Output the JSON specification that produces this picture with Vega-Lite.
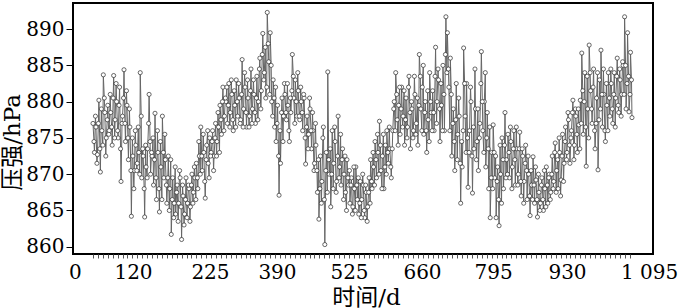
{
  "$schema": "https://vega.github.io/schema/vega-lite/v6.json",
  "width": 580,
  "height": 251,
  "autosize": "none",
  "padding": {"left": 73, "top": 3, "right": 47, "bottom": 54},
  "background": "white",
  "config": {
    "view": {"stroke": "black", "strokeWidth": 2},
    "axis": {"labelFont": "DejaVu Serif", "labelFontSize": 20, "labelColor": "black", "titleFont": "DejaVu Serif, Noto Sans CJK SC", "titleFontSize": 23, "titleFontWeight": "normal", "titleColor": "black", "grid": false, "domain": false}
  },
  "data": {"values": [
    {"d":0,"p":877},{"d":3,"p":873},{"d":6,"p":876.5},{"d":9,"p":872.7},{"d":12,"p":880.2},{"d":15,"p":870.3},{"d":18,"p":876},{"d":21,"p":883.7},{"d":24,"p":878.5},{"d":27,"p":875},
    {"d":30,"p":879.5},{"d":33,"p":876},{"d":36,"p":878.5},{"d":39,"p":874},{"d":42,"p":883.6},{"d":45,"p":877.5},{"d":48,"p":880},{"d":51,"p":875},{"d":54,"p":882},{"d":57,"p":869},
    {"d":60,"p":878},{"d":63,"p":884.4},{"d":66,"p":874.5},{"d":69,"p":879.5},{"d":72,"p":872},{"d":75,"p":876.5},{"d":78,"p":864.2},{"d":81,"p":872.5},{"d":84,"p":870.5},{"d":87,"p":874},
    {"d":90,"p":871.5},{"d":93,"p":873},{"d":96,"p":884},{"d":99,"p":869.5},{"d":102,"p":872.5},{"d":105,"p":864.1},{"d":108,"p":871},{"d":111,"p":873.5},{"d":114,"p":881},{"d":117,"p":870},
    {"d":120,"p":872.5},{"d":123,"p":868.5},{"d":126,"p":878.4},{"d":129,"p":866.5},{"d":132,"p":873},{"d":135,"p":864.8},{"d":138,"p":871},{"d":141,"p":878},{"d":144,"p":869.5},{"d":147,"p":872},
    {"d":150,"p":866},{"d":153,"p":872.5},{"d":156,"p":868},{"d":159,"p":861.7},{"d":162,"p":869.5},{"d":165,"p":866},{"d":168,"p":864.5},{"d":171,"p":868.5},{"d":174,"p":866},{"d":177,"p":869.5},
    {"d":180,"p":861},{"d":183,"p":867},{"d":186,"p":864.5},{"d":189,"p":869.5},{"d":192,"p":866},{"d":195,"p":868},{"d":198,"p":865.5},{"d":201,"p":870},{"d":204,"p":867.5},{"d":207,"p":869.5},
    {"d":210,"p":871.5},{"d":213,"p":868},{"d":216,"p":872.5},{"d":219,"p":876.5},{"d":222,"p":870.5},{"d":225,"p":873},{"d":228,"p":866.7},{"d":231,"p":874},{"d":234,"p":871.5},{"d":237,"p":875},
    {"d":240,"p":873},{"d":243,"p":876},{"d":246,"p":872.5},{"d":249,"p":877},{"d":252,"p":874.5},{"d":255,"p":876.5},{"d":258,"p":879.5},{"d":261,"p":875.5},{"d":264,"p":882},{"d":267,"p":878},
    {"d":270,"p":880},{"d":273,"p":877},{"d":276,"p":882.5},{"d":279,"p":878.5},{"d":282,"p":881},{"d":285,"p":876},{"d":288,"p":879.5},{"d":291,"p":883},{"d":294,"p":878},{"d":297,"p":880.5},
    {"d":300,"p":877.5},{"d":303,"p":885.8},{"d":306,"p":879},{"d":309,"p":882},{"d":312,"p":876.5},{"d":315,"p":880.5},{"d":318,"p":878},{"d":321,"p":884.5},{"d":324,"p":879},{"d":327,"p":881},
    {"d":330,"p":877},{"d":333,"p":883.5},{"d":336,"p":880},{"d":339,"p":886},{"d":342,"p":881.5},{"d":345,"p":889.4},{"d":348,"p":884},{"d":351,"p":880.5},{"d":354,"p":892.3},{"d":357,"p":885.5},
    {"d":360,"p":889.5},{"d":363,"p":880},{"d":366,"p":883},{"d":369,"p":876.5},{"d":372,"p":874.5},{"d":375,"p":879.5},{"d":378,"p":867.1},{"d":381,"p":871.5},{"d":384,"p":880.5},{"d":387,"p":878},
    {"d":390,"p":881},{"d":393,"p":877.5},{"d":396,"p":879.5},{"d":399,"p":874.5},{"d":402,"p":878.5},{"d":405,"p":886.5},{"d":408,"p":880.5},{"d":411,"p":883},{"d":414,"p":878},{"d":417,"p":881.5},
    {"d":420,"p":877.5},{"d":423,"p":880},{"d":426,"p":876},{"d":429,"p":880.5},{"d":432,"p":871.4},{"d":435,"p":878},{"d":438,"p":875.5},{"d":441,"p":879},{"d":444,"p":873.5},{"d":447,"p":876},
    {"d":450,"p":871.5},{"d":453,"p":874},{"d":456,"p":867.5},{"d":459,"p":863.8},{"d":462,"p":872.5},{"d":465,"p":869},{"d":468,"p":876.5},{"d":471,"p":860.3},{"d":474,"p":873},{"d":477,"p":884.1},
    {"d":480,"p":870},{"d":483,"p":865.5},{"d":486,"p":876},{"d":489,"p":871.5},{"d":492,"p":874.5},{"d":495,"p":869},{"d":498,"p":878},{"d":501,"p":871},{"d":504,"p":868.5},{"d":507,"p":873.5},
    {"d":510,"p":870},{"d":513,"p":867.5},{"d":516,"p":872},{"d":519,"p":868.5},{"d":522,"p":866},{"d":525,"p":869.5},{"d":528,"p":865.5},{"d":531,"p":868},{"d":534,"p":871},{"d":537,"p":866.5},
    {"d":540,"p":864.5},{"d":543,"p":869},{"d":546,"p":866.5},{"d":549,"p":868.5},{"d":552,"p":864},{"d":555,"p":867.5},{"d":558,"p":865.5},{"d":561,"p":869.5},{"d":564,"p":872},{"d":567,"p":868},
    {"d":570,"p":871},{"d":573,"p":874.5},{"d":576,"p":869.5},{"d":579,"p":873},{"d":582,"p":877.3},{"d":585,"p":870.5},{"d":588,"p":872.5},{"d":591,"p":868},{"d":594,"p":874},{"d":597,"p":876},
    {"d":600,"p":871.5},{"d":603,"p":873.5},{"d":606,"p":869.5},{"d":609,"p":876},{"d":612,"p":880},{"d":615,"p":884},{"d":618,"p":877.5},{"d":621,"p":879.5},{"d":624,"p":875.5},{"d":627,"p":882},
    {"d":630,"p":878},{"d":633,"p":874},{"d":636,"p":880.5},{"d":639,"p":876.5},{"d":642,"p":883.5},{"d":645,"p":873.5},{"d":648,"p":879},{"d":651,"p":876},{"d":654,"p":881},{"d":657,"p":877},
    {"d":660,"p":874},{"d":663,"p":886.5},{"d":666,"p":879},{"d":669,"p":882},{"d":672,"p":875.5},{"d":675,"p":880},{"d":678,"p":873},{"d":681,"p":877.5},{"d":684,"p":884},{"d":687,"p":878.5},
    {"d":690,"p":881.5},{"d":693,"p":876},{"d":696,"p":887.5},{"d":699,"p":880},{"d":702,"p":883},{"d":705,"p":874.5},{"d":708,"p":879.5},{"d":711,"p":885},{"d":714,"p":876},{"d":717,"p":891.7},
    {"d":720,"p":889.5},{"d":723,"p":882},{"d":726,"p":886},{"d":729,"p":872.5},{"d":732,"p":879},{"d":735,"p":870.5},{"d":738,"p":882.5},{"d":741,"p":875.5},{"d":744,"p":878},{"d":747,"p":866},
    {"d":750,"p":871},{"d":753,"p":887.4},{"d":756,"p":878},{"d":759,"p":882.5},{"d":762,"p":868.2},{"d":765,"p":876},{"d":768,"p":880},{"d":771,"p":867.4},{"d":774,"p":873.5},{"d":777,"p":879},
    {"d":780,"p":874.5},{"d":783,"p":870.5},{"d":786,"p":877},{"d":789,"p":886.9},{"d":792,"p":876},{"d":795,"p":880},{"d":798,"p":871},{"d":801,"p":878.5},{"d":804,"p":868},{"d":807,"p":864},
    {"d":810,"p":873},{"d":813,"p":876.8},{"d":816,"p":869.5},{"d":819,"p":864},{"d":822,"p":871},{"d":825,"p":862.9},{"d":828,"p":870},{"d":831,"p":875},{"d":834,"p":868},{"d":837,"p":878.5},
    {"d":840,"p":872},{"d":843,"p":875.5},{"d":846,"p":869.5},{"d":849,"p":874.5},{"d":852,"p":871},{"d":855,"p":876},{"d":858,"p":868.5},{"d":861,"p":873.5},{"d":864,"p":870},{"d":867,"p":875.8},
    {"d":870,"p":867},{"d":873,"p":872.5},{"d":876,"p":869},{"d":879,"p":874},{"d":882,"p":866.5},{"d":885,"p":870},{"d":888,"p":864.3},{"d":891,"p":868.5},{"d":894,"p":872.4},{"d":897,"p":866},
    {"d":900,"p":869.2},{"d":903,"p":864.1},{"d":906,"p":867.5},{"d":909,"p":866},{"d":912,"p":869.5},{"d":915,"p":865},{"d":918,"p":868},{"d":921,"p":871},{"d":924,"p":866},{"d":927,"p":870},
    {"d":930,"p":867.5},{"d":933,"p":872.5},{"d":936,"p":869},{"d":939,"p":874.3},{"d":942,"p":870.5},{"d":945,"p":868},{"d":948,"p":873},{"d":951,"p":869.2},{"d":954,"p":875.5},{"d":957,"p":871.5},
    {"d":960,"p":876.5},{"d":963,"p":873},{"d":966,"p":877.5},{"d":969,"p":871.5},{"d":972,"p":876},{"d":975,"p":880.2},{"d":978,"p":874},{"d":981,"p":878},{"d":984,"p":873},{"d":987,"p":876.8},
    {"d":990,"p":880.2},{"d":993,"p":886.7},{"d":996,"p":875.5},{"d":999,"p":884},{"d":1002,"p":871.1},{"d":1005,"p":879},{"d":1008,"p":887.8},{"d":1011,"p":881.5},{"d":1014,"p":877},{"d":1017,"p":884.5},
    {"d":1020,"p":873.5},{"d":1023,"p":880.5},{"d":1026,"p":870.6},{"d":1029,"p":883},{"d":1032,"p":887.1},{"d":1035,"p":876.5},{"d":1038,"p":881},{"d":1041,"p":874.5},{"d":1044,"p":879.5},{"d":1047,"p":884},
    {"d":1050,"p":878},{"d":1053,"p":882.5},{"d":1056,"p":877},{"d":1059,"p":884},{"d":1062,"p":880.5},{"d":1065,"p":886},{"d":1068,"p":878.5},{"d":1071,"p":883},{"d":1074,"p":881},{"d":1077,"p":885},
    {"d":1080,"p":891.7},{"d":1083,"p":879},{"d":1086,"p":889.5},{"d":1089,"p":878.6},{"d":1092,"p":886.8},{"d":1095,"p":877.8},
    {"d":2,"p":874.5},{"d":5,"p":878},{"d":8,"p":871.5},{"d":11,"p":877},{"d":14,"p":873.5},{"d":17,"p":879},{"d":20,"p":874},{"d":23,"p":880.5},{"d":26,"p":872.5},{"d":29,"p":877.5},
    {"d":32,"p":875.5},{"d":35,"p":881},{"d":38,"p":876.5},{"d":41,"p":880.5},{"d":44,"p":875},{"d":47,"p":882.5},{"d":50,"p":876},{"d":53,"p":879.5},{"d":56,"p":873.5},{"d":59,"p":877},
    {"d":62,"p":880.5},{"d":65,"p":877},{"d":68,"p":881.5},{"d":71,"p":875},{"d":74,"p":879},{"d":77,"p":870.5},{"d":80,"p":875},{"d":83,"p":868},{"d":86,"p":876},{"d":89,"p":870.5},
    {"d":92,"p":876.5},{"d":95,"p":870},{"d":98,"p":878},{"d":101,"p":873.5},{"d":104,"p":868},{"d":107,"p":874},{"d":110,"p":869.5},{"d":113,"p":877},{"d":116,"p":874.5},{"d":119,"p":873},
    {"d":122,"p":875},{"d":125,"p":872},{"d":128,"p":869.5},{"d":131,"p":876},{"d":134,"p":868},{"d":137,"p":874.5},{"d":140,"p":866.5},{"d":143,"p":873},{"d":146,"p":875.5},{"d":149,"p":868.5},
    {"d":152,"p":869.5},{"d":155,"p":865},{"d":158,"p":872},{"d":161,"p":866.5},{"d":164,"p":864},{"d":167,"p":871},{"d":170,"p":867.5},{"d":173,"p":863.5},{"d":176,"p":870.5},{"d":179,"p":865.5},
    {"d":182,"p":868.5},{"d":185,"p":863},{"d":188,"p":866.5},{"d":191,"p":864},{"d":194,"p":868.5},{"d":197,"p":863.5},{"d":200,"p":868.5},{"d":203,"p":866},{"d":206,"p":871},{"d":209,"p":866.5},
    {"d":212,"p":869.5},{"d":215,"p":874.5},{"d":218,"p":870},{"d":221,"p":872.5},{"d":224,"p":875.5},{"d":227,"p":869},{"d":230,"p":872},{"d":233,"p":876},{"d":236,"p":869.5},{"d":239,"p":872.5},
    {"d":242,"p":874.5},{"d":245,"p":870.5},{"d":248,"p":875},{"d":251,"p":872.5},{"d":254,"p":878.5},{"d":257,"p":873},{"d":260,"p":877.5},{"d":263,"p":880},{"d":266,"p":876},{"d":269,"p":880.5},
    {"d":272,"p":882},{"d":275,"p":879.5},{"d":278,"p":876.5},{"d":281,"p":883},{"d":284,"p":877.5},{"d":287,"p":881.5},{"d":290,"p":876.5},{"d":293,"p":880},{"d":296,"p":882.5},{"d":299,"p":877},
    {"d":302,"p":881},{"d":305,"p":876.5},{"d":308,"p":884},{"d":311,"p":878.5},{"d":314,"p":883},{"d":317,"p":876.5},{"d":320,"p":881.5},{"d":323,"p":877},{"d":326,"p":883},{"d":329,"p":878.5},
    {"d":332,"p":880.5},{"d":335,"p":877.5},{"d":338,"p":884.5},{"d":341,"p":879},{"d":344,"p":886.5},{"d":347,"p":883},{"d":350,"p":887.5},{"d":353,"p":882},{"d":356,"p":888},{"d":359,"p":881},
    {"d":362,"p":885},{"d":365,"p":878},{"d":368,"p":880.5},{"d":371,"p":882},{"d":374,"p":877},{"d":377,"p":872.5},{"d":380,"p":876},{"d":383,"p":878.5},{"d":386,"p":874.5},{"d":389,"p":882.5},
    {"d":392,"p":878.5},{"d":395,"p":882.5},{"d":398,"p":876},{"d":401,"p":880.5},{"d":404,"p":881.5},{"d":407,"p":883.5},{"d":410,"p":877},{"d":413,"p":880},{"d":416,"p":884},{"d":419,"p":878},
    {"d":422,"p":882},{"d":425,"p":878.5},{"d":428,"p":881},{"d":431,"p":875},{"d":434,"p":876.5},{"d":437,"p":873.5},{"d":440,"p":880.5},{"d":443,"p":876},{"d":446,"p":878.5},{"d":449,"p":870.5},
    {"d":452,"p":877},{"d":455,"p":870.5},{"d":458,"p":872},{"d":461,"p":868},{"d":464,"p":866},{"d":467,"p":875},{"d":470,"p":866.5},{"d":473,"p":870.5},{"d":476,"p":867.5},{"d":479,"p":872},
    {"d":482,"p":873.5},{"d":485,"p":870},{"d":488,"p":868},{"d":491,"p":876.5},{"d":494,"p":867.5},{"d":497,"p":872.5},{"d":500,"p":869.5},{"d":503,"p":875.5},{"d":506,"p":872},{"d":509,"p":866.5},
    {"d":512,"p":872.5},{"d":515,"p":865},{"d":518,"p":869.5},{"d":521,"p":870.5},{"d":524,"p":868.5},{"d":527,"p":864.5},{"d":530,"p":871},{"d":533,"p":865},{"d":536,"p":868.5},{"d":539,"p":869.5},
    {"d":542,"p":866},{"d":545,"p":864},{"d":548,"p":870},{"d":551,"p":865},{"d":554,"p":868.5},{"d":557,"p":863.5},{"d":560,"p":867.5},{"d":563,"p":866},{"d":566,"p":869},{"d":569,"p":873},
    {"d":572,"p":868.5},{"d":575,"p":872},{"d":578,"p":875.5},{"d":581,"p":870},{"d":584,"p":874},{"d":587,"p":868},{"d":590,"p":875.5},{"d":593,"p":871},{"d":596,"p":870},{"d":599,"p":873},
    {"d":602,"p":876.5},{"d":605,"p":871},{"d":608,"p":873.5},{"d":611,"p":879},{"d":614,"p":876},{"d":617,"p":881},{"d":620,"p":874},{"d":623,"p":882},{"d":626,"p":879},{"d":629,"p":876.5},
    {"d":632,"p":881.5},{"d":635,"p":877.5},{"d":638,"p":875},{"d":641,"p":882},{"d":644,"p":878.5},{"d":647,"p":880},{"d":650,"p":875},{"d":653,"p":883.5},{"d":656,"p":875.5},{"d":659,"p":880.5},
    {"d":662,"p":879.5},{"d":665,"p":883.5},{"d":668,"p":876},{"d":671,"p":885},{"d":674,"p":878.5},{"d":677,"p":876},{"d":680,"p":881.5},{"d":683,"p":874.5},{"d":686,"p":880},{"d":689,"p":876},
    {"d":692,"p":878.5},{"d":695,"p":883.5},{"d":698,"p":877},{"d":701,"p":884.5},{"d":704,"p":879},{"d":707,"p":882.5},{"d":710,"p":876},{"d":713,"p":881},{"d":716,"p":886.5},{"d":719,"p":884},
    {"d":722,"p":884.5},{"d":725,"p":876},{"d":728,"p":881},{"d":731,"p":877},{"d":734,"p":874.5},{"d":737,"p":877.5},{"d":740,"p":872},{"d":743,"p":880.5},{"d":746,"p":871.5},{"d":749,"p":874.5},
    {"d":752,"p":876},{"d":755,"p":882.5},{"d":758,"p":873},{"d":761,"p":875},{"d":764,"p":873},{"d":767,"p":882},{"d":770,"p":872.5},{"d":773,"p":876.5},{"d":776,"p":884.5},{"d":779,"p":872},
    {"d":782,"p":879},{"d":785,"p":875},{"d":788,"p":882.5},{"d":791,"p":880},{"d":794,"p":873},{"d":797,"p":884},{"d":800,"p":875},{"d":803,"p":873.5},{"d":806,"p":876.5},{"d":809,"p":869.5},
    {"d":812,"p":868},{"d":815,"p":873},{"d":818,"p":872.5},{"d":821,"p":869},{"d":824,"p":866.5},{"d":827,"p":874},{"d":830,"p":866},{"d":833,"p":872},{"d":836,"p":874},{"d":839,"p":869.5},
    {"d":842,"p":870},{"d":845,"p":873},{"d":848,"p":876.5},{"d":851,"p":868},{"d":854,"p":873.5},{"d":857,"p":872},{"d":860,"p":876.5},{"d":863,"p":868.5},{"d":866,"p":873.5},{"d":869,"p":869},
    {"d":872,"p":873.5},{"d":875,"p":866},{"d":878,"p":871.5},{"d":881,"p":870.5},{"d":884,"p":872.5},{"d":887,"p":867},{"d":890,"p":870.5},{"d":893,"p":866.5},{"d":896,"p":868.5},{"d":899,"p":871},
    {"d":902,"p":866.5},{"d":905,"p":870},{"d":908,"p":865},{"d":911,"p":868.5},{"d":914,"p":866.5},{"d":917,"p":870.5},{"d":920,"p":865.5},{"d":923,"p":868.5},{"d":926,"p":869.5},{"d":929,"p":866.5},
    {"d":932,"p":870},{"d":935,"p":868},{"d":938,"p":873},{"d":941,"p":867.5},{"d":944,"p":872},{"d":947,"p":875},{"d":950,"p":867},{"d":953,"p":872.5},{"d":956,"p":869},{"d":959,"p":874.5},
    {"d":962,"p":872},{"d":965,"p":878.5},{"d":968,"p":874},{"d":971,"p":875},{"d":974,"p":878.5},{"d":977,"p":872},{"d":980,"p":879},{"d":983,"p":875.5},{"d":986,"p":879},{"d":989,"p":873.5},
    {"d":992,"p":877},{"d":995,"p":881.5},{"d":998,"p":880},{"d":1001,"p":876.5},{"d":1004,"p":883.5},{"d":1007,"p":875},{"d":1010,"p":884},{"d":1013,"p":879},{"d":1016,"p":882},{"d":1019,"p":876},
    {"d":1022,"p":877},{"d":1025,"p":884},{"d":1028,"p":877.5},{"d":1031,"p":879},{"d":1034,"p":881},{"d":1037,"p":884.5},{"d":1040,"p":876},{"d":1043,"p":882.5},{"d":1046,"p":876},{"d":1049,"p":880.5},
    {"d":1052,"p":884.5},{"d":1055,"p":879},{"d":1058,"p":881},{"d":1061,"p":876.5},{"d":1064,"p":883.5},{"d":1067,"p":879.5},{"d":1070,"p":884.5},{"d":1073,"p":878},{"d":1076,"p":885.5},{"d":1079,"p":881},
    {"d":1082,"p":885},{"d":1085,"p":882.5},{"d":1088,"p":883.5},{"d":1091,"p":881},{"d":1094,"p":883}
  ]},
  "encoding": {
    "y": {
      "field": "p", "type": "quantitative",
      "scale": {"domain": [859, 893.6], "nice": false, "zero": false},
      "axis": {"values": [860, 865, 870, 875, 880, 885, 890], "tickSize": 7, "tickColor": "black", "tickWidth": 1, "labelPadding": 2, "title": "压强/hPa", "titleAngle": 270, "titleX": -61, "titleY": 139, "titleAlign": "center", "titleBaseline": "middle"}
    }
  },
  "layer": [
    {
      "mark": {"type": "line", "color": "#666666", "strokeWidth": 1},
      "encoding": {
        "x": {
          "field": "d", "type": "quantitative",
          "scale": {"domain": [-40.6, 1137.7], "nice": false, "zero": false},
          "axis": {"orient": "bottom", "values": [-36.6, 81.3, 237.7, 373.8, 520.1, 668.4, 812.7, 963, 1129.6], "ticks": false, "labelPadding": 8, "labelOverlap": false, "labelBound": false, "labelFlush": false,
            "labelExpr": "datum.value < 0 ? '0' : datum.value < 100 ? '120' : datum.value < 300 ? '225' : datum.value < 400 ? '390' : datum.value < 600 ? '525' : datum.value < 700 ? '660' : datum.value < 900 ? '795' : datum.value < 1000 ? '930' : '1 095'",
            "title": "时间/d", "titleX": 293, "titleY": 43, "titleAlign": "center", "titleBaseline": "middle"}
        }
      }
    },
    {
      "mark": {"type": "point", "filled": true, "fill": "white", "stroke": "#2a2a2a", "strokeWidth": 0.7, "size": 17, "opacity": 1},
      "encoding": {
        "x": {
          "field": "d", "type": "quantitative",
          "scale": {"domain": [-40.6, 1137.7], "nice": false, "zero": false},
          "axis": {"orient": "bottom", "labels": false, "title": null, "tickSize": 4, "tickColor": "#555555", "tickWidth": 1,
            "values": [0,10,20,30,40,50,60,70,80,90,100,110,120,130,140,150,160,170,180,190,200,210,220,230,240,250,260,270,280,290,300,310,320,330,340,350,360,370,380,390,400,410,420,430,440,450,460,470,480,490,500,510,520,530,540,550,560,570,580,590,600,610,620,630,640,650,660,670,680,690,700,710,720,730,740,750,760,770,780,790,800,810,820,830,840,850,860,870,880,890,900,910,920,930,940,950,960,970,980,990,1000,1010,1020,1030,1040,1050,1060,1070,1080,1090]}
        }
      }
    }
  ],
  "resolve": {"scale": {"x": "independent"}, "axis": {"x": "independent"}}
}
